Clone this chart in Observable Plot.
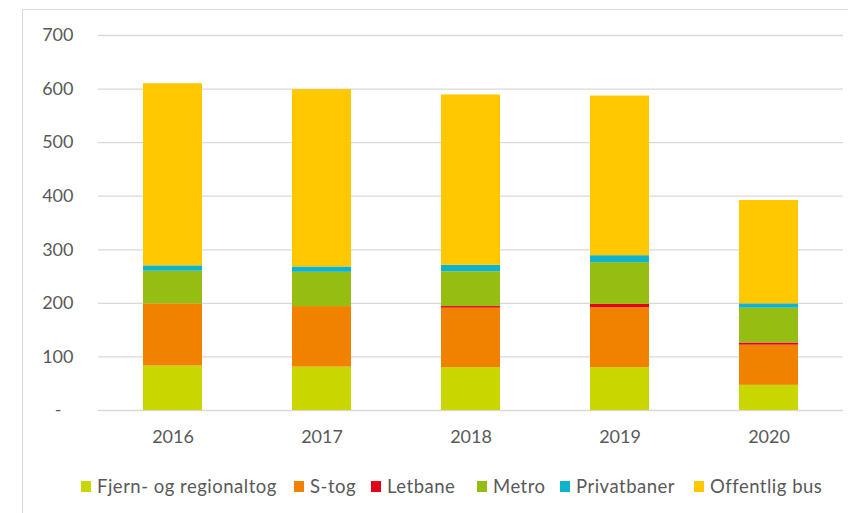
<!DOCTYPE html>
<html>
<head>
<meta charset="utf-8">
<script src="https://cdn.jsdelivr.net/npm/d3@7"></script>
<script src="https://cdn.jsdelivr.net/npm/@observablehq/plot@0.6"></script>
<style>
  html, body { margin: 0; padding: 0; background: #fff; width: 848px; height: 513px; overflow: hidden; }
  #frame { position: absolute; left: 22px; top: 9px; width: 900px; height: 600px; border: 1px solid #d9d9d9; box-sizing: border-box; }
  #chart { position: absolute; left: 0; top: 0; }
  #legend { position: absolute; top: 474px; left: 0; width: 848px; font-family: Lato, sans-serif; font-size: 18.5px; letter-spacing: 0.5px; color: #595959; }
  .item { position: absolute; top: 0; display: flex; align-items: center; white-space: nowrap; line-height: 24px; }
  .sw { width: 10px; height: 11px; margin-right: 6px; }
</style>
</head>
<body>
<div id="frame"></div>
<div id="chart"></div>
<div id="legend"></div>
<script>
const years = ["2016", "2017", "2018", "2019", "2020"];
const series = ["Fjern- og regionaltog", "S-tog", "Letbane", "Metro", "Privatbaner", "Offentlig bus"];
const colors = ["#c9d600", "#f08200", "#e2001a", "#96be12", "#10b3cc", "#ffc800"];
const fjern = [83, 81, 80, 80, 47];
const stog = [116, 113, 111, 112, 75];
const letbane = [0, 0, 3, 6, 4];
const metro = [61, 64, 65, 78, 65];
const privatbaner = [10, 10, 12, 13, 8];
const bus = [340, 331, 318, 298, 193];
const yTicks = [100, 200, 300, 400, 500, 600, 700];

const values = [fjern, stog, letbane, metro, privatbaner, bus];
const table = [];
series.forEach((s, i) => years.forEach((y, j) => table.push({year: y, series: s, value: values[i][j]})));

const chart = Plot.plot({
  width: 848,
  height: 460,
  marginLeft: 98,
  marginRight: 5,
  marginTop: 35,
  marginBottom: 50,
  style: {fontFamily: "Lato, sans-serif", fontSize: "18px", color: "#595959", background: "transparent"},
  x: {domain: years, paddingInner: 0.604, paddingOuter: 0.302},
  y: {domain: [0, 700]},
  color: {domain: series, range: colors},
  marks: [
    Plot.gridY(yTicks, {stroke: "#d9d9d9", strokeOpacity: 1, strokeWidth: 1.3}),
    Plot.ruleY([0], {stroke: "#d9d9d9", strokeWidth: 1.3}),
    Plot.barY(table, {x: "year", y: "value", fill: "series", order: series}),
    Plot.axisY(yTicks, {tickSize: 0, tickPadding: 25, label: null}),
    Plot.axisY([0], {tickSize: 0, tickPadding: 37, tickFormat: () => "-", label: null}),
    Plot.axisX({tickSize: 0, tickPadding: 20, label: null})
  ]
});
document.getElementById("chart").appendChild(chart);

const legendX = [81, 294, 371, 477, 560, 694];
const legend = document.getElementById("legend");
series.forEach((s, i) => {
  const it = document.createElement("div");
  it.className = "item";
  it.style.left = legendX[i] + "px";
  const sw = document.createElement("span");
  sw.className = "sw";
  sw.style.background = colors[i];
  const tx = document.createElement("span");
  tx.textContent = s;
  it.appendChild(sw);
  it.appendChild(tx);
  legend.appendChild(it);
});
</script>
</body>
</html>
